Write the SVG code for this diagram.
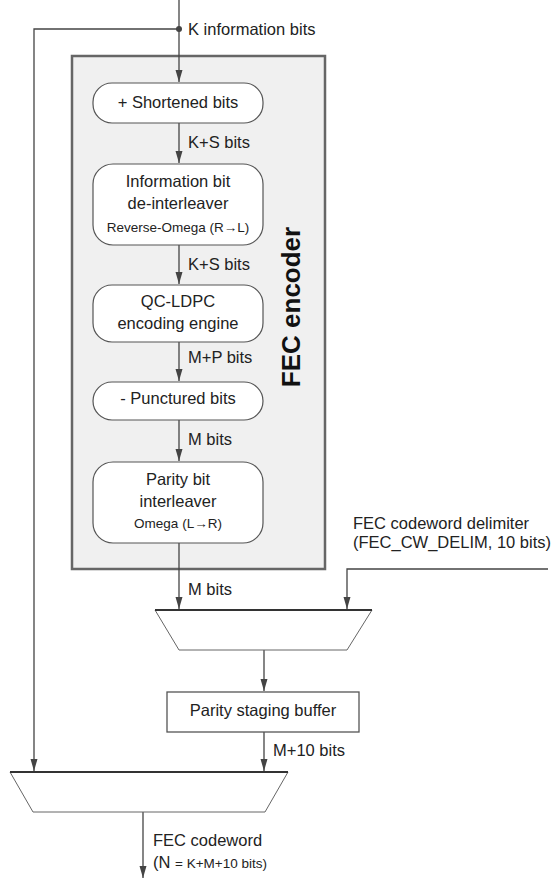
<svg xmlns="http://www.w3.org/2000/svg" width="555" height="879" viewBox="0 0 555 879">
<defs>
<marker id="ahd" markerUnits="userSpaceOnUse" markerWidth="12" markerHeight="14" refX="12" refY="5" orient="auto" viewBox="0 0 12 10">
<path d="M0,1.5 L0,8.5 L12,5 Z" fill="#444"/>
</marker>
</defs>
<style>
text{font-family:"Liberation Sans",Arial,sans-serif;fill:#222;}
.t{font-size:16.5px;}
.s{font-size:13.5px;}
.c{text-anchor:middle;}
.node{fill:#fff;stroke:#555;stroke-width:1.2;}
.ln{fill:none;stroke:#444;stroke-width:1.3;}
.tr{fill:#fff;stroke:#666;stroke-width:1;}
.trt{stroke:#333;stroke-width:2.2;}
</style>
<g id="fec-encoder">
<rect x="72" y="56" width="253" height="513" fill="#f0f0f0" stroke="#666" stroke-width="2.5"/>
<text transform="translate(300,307) rotate(-90)" text-anchor="middle" style="font-size:26px;font-weight:bold;fill:#111">FEC encoder</text>
</g>
<g id="connectors">
<path class="ln" d="M179,0 V82" marker-end="url(#ahd)"/>
<circle cx="179" cy="29" r="3" fill="#444"/>
<path class="ln" d="M179,29 H34 V771" marker-end="url(#ahd)"/>
<path class="ln" d="M179,123 V163" marker-end="url(#ahd)"/>
<path class="ln" d="M179,245 V284" marker-end="url(#ahd)"/>
<path class="ln" d="M179,342 V381" marker-end="url(#ahd)"/>
<path class="ln" d="M179,420 V461" marker-end="url(#ahd)"/>
<path class="ln" d="M179,543 V609" marker-end="url(#ahd)"/>
<path class="ln" d="M548,569 H347 V609" marker-end="url(#ahd)"/>
<path class="ln" d="M264,650 V691" marker-end="url(#ahd)"/>
<path class="ln" d="M264,732 V771" marker-end="url(#ahd)"/>
<path class="ln" d="M143,812 V878" marker-end="url(#ahd)"/>
<text class="t" x="188" y="35">K information bits</text>
<text class="t" x="188" y="148">K+S bits</text>
<text class="t" x="188" y="270">K+S bits</text>
<text class="t" x="188" y="363">M+P bits</text>
<text class="t" x="188" y="445">M bits</text>
<text class="t" x="188" y="595">M bits</text>
<text class="t" x="353" y="529">FEC codeword delimiter</text>
<text class="t" x="353" y="548">(FEC_CW_DELIM, 10 bits)</text>
<text class="t" x="273" y="756">M+10 bits</text>
<text class="t" x="153" y="846">FEC codeword</text>
<text class="t" x="153" y="868">(N <tspan class="s">= K+M+10 bits)</tspan></text>
</g>
<g id="shortened">
<rect class="node" x="93" y="83" width="170" height="40" rx="19"/>
<text class="t c" x="178" y="108">+ Shortened bits</text>
</g>
<g id="deinterleaver">
<rect class="node" x="93" y="164" width="170" height="81" rx="20"/>
<text class="t c" x="178" y="187">Information bit</text>
<text class="t c" x="178" y="209">de-interleaver</text>
<text class="s c" x="178" y="232">Reverse-Omega (R→L)</text>
</g>
<g id="qcldpc">
<rect class="node" x="93" y="285" width="170" height="57" rx="19"/>
<text class="t c" x="178" y="307">QC-LDPC</text>
<text class="t c" x="178" y="329">encoding engine</text>
</g>
<g id="punctured">
<rect class="node" x="93" y="382" width="170" height="38" rx="19"/>
<text class="t c" x="178" y="404">- Punctured bits</text>
</g>
<g id="parity-interleaver">
<rect class="node" x="93" y="462" width="170" height="81" rx="20"/>
<text class="t c" x="178" y="485">Parity bit</text>
<text class="t c" x="178" y="507">interleaver</text>
<text class="s c" x="178" y="528">Omega (L→R)</text>
</g>
<g id="mux1">
<path class="tr" d="M155,610 H372 L347,650 H179 Z"/>
<line class="trt" x1="155" y1="610" x2="372" y2="610"/>
</g>
<g id="staging-buffer">
<rect x="167" y="692" width="192" height="40" fill="#fff" stroke="#555" stroke-width="1.3"/>
<text class="t c" x="263" y="716">Parity staging buffer</text>
</g>
<g id="mux2">
<path class="tr" d="M10,772 H288 L265,812 H33 Z"/>
<line class="trt" x1="10" y1="772" x2="288" y2="772"/>
</g>
</svg>
